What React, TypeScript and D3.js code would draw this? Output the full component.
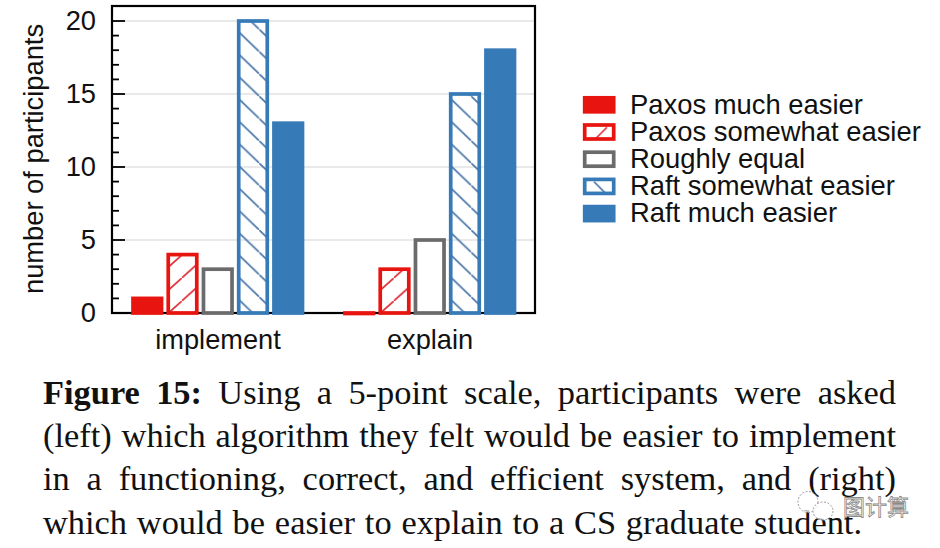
import React, { useLayoutEffect, useRef } from "react";
import * as d3 from "d3";

const groups = ["implement", "explain"];
const seriesNames = ["Paxos much easier", "Paxos somewhat easier", "Roughly equal", "Raft somewhat easier", "Raft much easier"];
const implementValues = [1, 4, 3, 20, 13];
const explainValues = [0, 3, 5, 15, 18];
const majorTicks = [0, 5, 10, 15, 20];
const minorTicks = d3.range(0, 21);
const captionLines = [
  [{ b: true, t: "Figure 15:" }, { b: false, t: " Using a 5-point scale, participants were asked" }],
  [{ b: false, t: "(left) which algorithm they felt would be easier to implement" }],
  [{ b: false, t: "in a functioning, correct, and efficient system, and (right)" }],
  [{ b: false, t: "which would be easier to explain to a CS graduate student." }],
];

const RED = "#e8140f";
const GREY = "#6b6b6b";
const BLUE = "#377ab8";
const colors = [RED, RED, GREY, BLUE, BLUE];
const fills = [RED, "url(#hatchRed)", "#fff", "url(#hatchBlue)", BLUE];
const legendFills = [RED, "url(#legRed)", "#fff", "url(#legBlue)", BLUE];
const TXT = "#111";
const SANS = "'Liberation Sans', Arial, sans-serif";
const SERIF = "'Liberation Serif', 'Times New Roman', serif";

const L = 112, R = 535, T = 6, B = 313;
const SW = 3.7;

export default function App() {
  const captionRef = useRef<SVGGElement>(null);
  useLayoutEffect(() => {
    const g = captionRef.current;
    if (!g) return;
    const lines = Array.from(g.querySelectorAll("text")) as SVGTextElement[];
    lines.forEach((t, i) => {
      const target = i === lines.length - 1 ? 819 : 853;
      const text = t.textContent || "";
      const spaces = text.split(" ").length - 1;
      t.style.wordSpacing = "0px";
      const w = t.getComputedTextLength();
      t.style.wordSpacing = `${(target - w) / spaces}px`;
    });
  }, []);

  const y = d3.scaleLinear().domain([0, 20]).range([B, 21]);
  const x0 = d3.scaleBand<string>().domain(groups).range([L, L + 424]);
  const x1 = d3
    .scaleBand<string>()
    .domain(seriesNames)
    .range([x0.bandwidth() / 2 - 85, x0.bandwidth() / 2 + 84.5])
    .paddingInner(0.19)
    .paddingOuter(0);
  const values = [implementValues, explainValues];
  const legY = d3.scaleBand<string>().domain(seriesNames).range([91.5, 227.5]);

  return (
    <svg width={940} height={548} style={{ position: "absolute", left: 0, top: 0, background: "#fff" }}>
      <defs>
        <pattern id="hatchBlue" patternUnits="userSpaceOnUse" width={23.2} height={22.3} patternTransform="translate(240,29.3)">
          <path d="M-2,-1.92L25.2,24.2" stroke="#4a76a8" strokeWidth={1.7} fill="none" />
        </pattern>
        <pattern id="hatchRed" patternUnits="userSpaceOnUse" width={25.5} height={23} patternTransform="translate(197.3,278) scale(1,-1)">
          <path d="M-2,-1.8L27.5,24.8" stroke="#e0323a" strokeWidth={1.7} fill="none" />
        </pattern>
        <pattern id="legBlue" patternUnits="userSpaceOnUse" width={32} height={14} patternTransform="translate(590,99)">
          <path d="M4,1L17,14" stroke="#4a76a8" strokeWidth={1.7} fill="none" />
        </pattern>
        <pattern id="legRed" patternUnits="userSpaceOnUse" width={32} height={14} patternTransform="translate(590,99)">
          <path d="M4,14L17,1" stroke="#e0323a" strokeWidth={1.7} fill="none" />
        </pattern>
      </defs>

      {majorTicks.slice(1).map((t) => (
        <line key={t} x1={L} x2={R} y1={y(t)} y2={y(t)} stroke="#e2e2e2" strokeWidth={1.3} />
      ))}

      <rect x={L} y={T} width={R - L} height={B - T} fill="none" stroke="#000" strokeWidth={2.2} />
      {minorTicks.map((t) => (
        <line key={t} x1={L} x2={L + (t % 5 === 0 ? 13 : 7)} y1={y(t)} y2={y(t)} stroke="#000" strokeWidth={1.8} />
      ))}
      {majorTicks.map((t) => (
        <text key={t} x={96} y={y(t) + 9} textAnchor="end" fontFamily={SANS} fontSize={27.3} fill={TXT}>{t}</text>
      ))}
      <text transform="translate(43,159) rotate(-90)" textAnchor="middle" fontFamily={SANS} fontSize={27.3} fill={TXT}>number of participants</text>

      {groups.map((g, gi) => (
        <g key={g} transform={`translate(${x0(g)},0)`}>
          {seriesNames.map((s, i) => (
            <rect
              key={s}
              x={x1(s)}
              y={y(values[gi][i])}
              width={x1.bandwidth()}
              height={Math.max(0.5, B - y(values[gi][i]))}
              fill={fills[i]}
              stroke={colors[i]}
              strokeWidth={SW}
            />
          ))}
          <text x={x0.bandwidth() / 2} y={349} textAnchor="middle" fontFamily={SANS} fontSize={27.2} fill={TXT}>{g}</text>
        </g>
      ))}

      {seriesNames.map((s, i) => {
        const yy = legY(s)!;
        const mid = yy + legY.bandwidth() / 2;
        return (
          <g key={s}>
            <g transform={`translate(0,${mid - 105})`}>
              <rect x={584.7} y={97.7} width={29} height={14} fill={legendFills[i]} stroke={colors[i]} strokeWidth={SW} />
            </g>
            <text x={630} y={mid + 8.5} fontFamily={SANS} fontSize={27.4} fill={TXT}>{s}</text>
          </g>
        );
      })}

      <g ref={captionRef}>
        {captionLines.map((parts, i) => (
          <text key={i} x={43} y={404 + i * 43.2} fontFamily={SERIF} fontSize={34.4} fill="#111" xmlSpace="preserve">
            {parts.map((p, j) => (
              <tspan key={j} fontWeight={p.b ? 700 : 400}>{p.t}</tspan>
            ))}
          </text>
        ))}
      </g>

      <g fill="#fff" fillOpacity={0.75} stroke="#9a9a9a" strokeWidth={1} strokeDasharray="2 1.5">
        <ellipse cx={808} cy={502} rx={10} ry={10.5} />
        <ellipse cx={823} cy={511} rx={10} ry={9} />
      </g>
      <text x={843} y={515} fontFamily="'Noto Sans CJK SC'" fontSize={22} fill="#fff" stroke="#8a8a8a" strokeWidth={0.8}>图计算</text>
    </svg>
  );
}
